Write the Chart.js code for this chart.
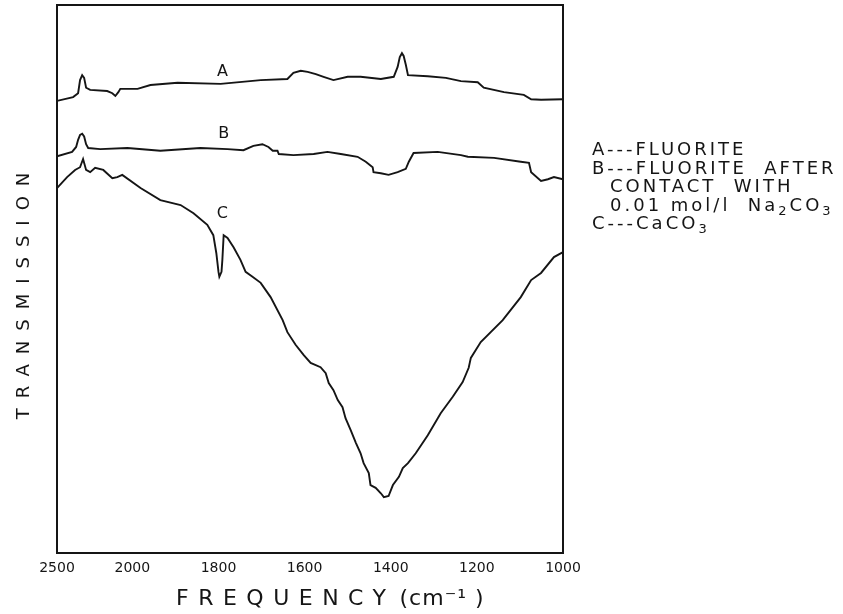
<!DOCTYPE html>
<html>
<head>
<meta charset="utf-8">
<script src="https://cdn.jsdelivr.net/npm/chart.js@4/dist/chart.umd.min.js"></script>
<style>
  html, body { margin: 0; padding: 0; background: #ffffff; }
  canvas { display: block; }
</style>
</head>
<body>
<canvas id="ir" width="843" height="614"></canvas>
<script>
// Frequency axis: labelled wavenumbers (cm⁻¹)
const tickFreqs  = [2500, 2000, 1800, 1600, 1400, 1200, 1000];
const tickLabels = ['2500', '2000', '1800', '1600', '1400', '1200', '1000'];

// A — fluorite
const freqA  = [2500,2393,2360,2347,2333,2320,2307,2280,2167,2133,2113,2093,2080,1988,1958,1895,1795,1702,1640,1626,1609,1593,1574,1556,1533,1500,1470,1423,1393,1384,1379,1374,1370,1365,1360,1314,1272,1237,1198,1184,1137,1091,1074,1051,1000];
const transA = [82.5,83.2,83.9,86.3,87.2,86.7,84.9,84.5,84.3,83.9,83.4,84.1,84.7,84.7,85.4,85.8,85.6,86.3,86.5,87.6,88.0,87.8,87.4,86.9,86.3,86.9,86.9,86.5,86.9,88.7,90.5,91.2,90.7,89.1,87.2,87.0,86.7,86.1,85.9,84.9,84.1,83.6,82.8,82.7,82.8];

// B — fluorite after contact with 0.01 mol/l Na2CO3
const freqB  = [2500,2400,2373,2360,2347,2333,2320,2307,2293,2213,2033,1935,1842,1779,1742,1719,1698,1684,1674,1663,1660,1626,1579,1547,1516,1477,1458,1442,1440,1423,1405,1384,1365,1358,1347,1291,1237,1221,1160,1098,1079,1074,1051,1035,1021,1000];
const transB = [72.4,73.2,74.1,75.4,76.3,76.5,76.0,74.6,73.9,73.7,73.9,73.4,73.9,73.7,73.5,74.3,74.6,74.1,73.4,73.4,72.8,72.6,72.8,73.2,72.8,72.3,71.4,70.4,69.5,69.3,69.0,69.5,70.1,71.4,73.0,73.2,72.6,72.3,72.1,71.4,71.2,69.5,67.9,68.2,68.6,68.2];

// C — CaCO3
const freqC  = [2500,2433,2380,2347,2327,2307,2280,2247,2193,2133,2100,2067,1981,1935,1888,1858,1826,1812,1805,1800,1798,1793,1791,1788,1779,1765,1749,1737,1721,1702,1679,1651,1640,1621,1602,1586,1563,1551,1544,1533,1523,1512,1505,1493,1481,1470,1463,1451,1447,1435,1423,1416,1405,1395,1381,1372,1360,1342,1314,1284,1256,1233,1219,1214,1191,1140,1098,1074,1051,1021,1000];
const transC = [66.6,68.6,69.9,70.4,71.9,69.9,69.5,70.3,69.9,68.4,68.6,69.0,66.6,64.4,63.5,62.0,59.9,58.0,54.7,51.3,50.4,51.3,53.5,58.0,57.5,55.8,53.5,51.3,50.4,49.3,46.7,42.5,40.3,38.0,36.1,34.7,33.9,32.8,31.0,29.7,27.9,26.6,24.6,22.4,20.1,18.2,16.4,14.6,12.4,11.9,10.9,10.2,10.4,12.4,13.9,15.5,16.4,18.2,21.5,25.5,28.5,31.2,33.8,35.6,38.5,42.5,46.7,49.8,51.1,54.0,54.9];

// Curve letters placed beside each trace (frequency, transmission)
const curveNames  = ['A', 'B', 'C'];
const curveLabelF = [1791, 1788, 1791];
const curveLabelT = [87.8, 76.5, 61.9];

// Key text; each line is a list of [text, isSubscript] runs
const keyLines = [
  [['A---FLUORITE', 0]],
  [['B---FLUORITE  AFTER', 0]],
  [['CONTACT  WITH', 0]],
  [['0.01 mol/l  Na', 0], ['2', 1], ['CO', 0], ['3', 1]],
  [['C---CaCO', 0], ['3', 1]]
];
const keyIndent = [false, false, true, true, false];

const INK = '#151515';
const FONT = '"DejaVu Sans", sans-serif';

// Chart paper: 2500–2000 cm⁻¹ is drawn at 0.35 the scale of 2000–1000 cm⁻¹.
function axisPos(f) {
  return f >= 2000 ? (2500 - f) * 0.35 : 175 + (2000 - f);
}

function toPoints(fs, ts) {
  return fs.map((f, i) => ({ x: axisPos(f), y: ts[i] }));
}

// Draws text with extra tracking; x is the left edge unless align === 'center'.
// Returns the advance including the trailing spacing.
function trackedText(ctx, text, x, y, spacing, align) {
  ctx.save();
  ctx.textAlign = 'left';
  const hasLS = 'letterSpacing' in ctx;
  if (hasLS) ctx.letterSpacing = '0px';
  const chars = Array.from(text);
  const natural = ctx.measureText(text).width;
  const total = natural + spacing * (chars.length - 1);
  let x0 = align === 'center' ? x - total / 2 : x;
  if (hasLS) {
    ctx.letterSpacing = spacing + 'px';
    ctx.fillText(text, x0, y);
  } else {
    for (const ch of chars) {
      ctx.fillText(ch, x0, y);
      x0 += ctx.measureText(ch).width + spacing;
    }
  }
  ctx.restore();
  return total + spacing;
}

function richLine(ctx, runs, x, y, spacing) {
  let cx = x;
  for (const [t, sub] of runs) {
    ctx.font = (sub ? '13px ' : '18px ') + FONT;
    cx += trackedText(ctx, t, cx, y + (sub ? 4 : 0), spacing, 'left');
  }
}

const annotations = {
  id: 'irAnnotations',
  afterDraw(chart) {
    const { ctx, chartArea: a, scales } = chart;
    ctx.save();

    // plot frame
    ctx.strokeStyle = INK;
    ctx.lineWidth = 2;
    ctx.strokeRect(a.left, a.top, a.right - a.left, a.bottom - a.top);

    ctx.fillStyle = INK;

    // curve letters
    ctx.font = '16px ' + FONT;
    ctx.textBaseline = 'middle';
    ctx.textAlign = 'center';
    curveNames.forEach((n, i) => {
      const px = scales.x.getPixelForValue(axisPos(curveLabelF[i]));
      const py = scales.y.getPixelForValue(curveLabelT[i]);
      ctx.fillText(n, px, py);
    });
    ctx.textBaseline = 'alphabetic';

    // key at right
    keyLines.forEach((runs, i) => {
      richLine(ctx, runs, a.right + (keyIndent[i] ? 47 : 29), 155 + i * 18.5, 3);
    });

    // x-axis title
    ctx.font = '22px ' + FONT;
    const w = trackedText(ctx, 'FREQUENCY', 176, 605, 9.5, 'left');
    trackedText(ctx, '(cm⁻¹ )', 176 + w + 4, 605, 1, 'left');

    // y-axis title
    ctx.save();
    ctx.translate(28.5, 296);
    ctx.rotate(-Math.PI / 2);
    ctx.font = '18px ' + FONT;
    trackedText(ctx, 'TRANSMISSION', 0, 0, 10, 'center');
    ctx.restore();

    ctx.restore();
  }
};

const mk = (fs, ts) => ({
  data: toPoints(fs, ts),
  borderColor: INK,
  borderWidth: 1.9,
  pointRadius: 0,
  tension: 0,
  fill: false
});

new Chart(document.getElementById('ir'), {
  type: 'line',
  data: { datasets: [mk(freqA, transA), mk(freqB, transB), mk(freqC, transC)] },
  options: {
    responsive: false,
    animation: false,
    events: [],
    layout: { padding: { left: 57, top: 5, right: 280, bottom: 0 } },
    plugins: { legend: { display: false }, tooltip: { enabled: false } },
    scales: {
      x: {
        type: 'linear',
        min: 0,
        max: axisPos(1000),
        grid: { display: false, drawTicks: false },
        border: { display: false },
        afterBuildTicks: s => { s.ticks = tickFreqs.map(f => ({ value: axisPos(f) })); },
        afterFit: s => { s.height = 61; },
        ticks: {
          autoSkip: false,
          maxRotation: 0,
          padding: 7,
          color: INK,
          font: { family: FONT, size: 14 },
          callback: (v, i) => tickLabels[i]
        }
      },
      y: { display: false, min: 0, max: 100 }
    }
  },
  plugins: [annotations]
});
</script>
</body>
</html>
